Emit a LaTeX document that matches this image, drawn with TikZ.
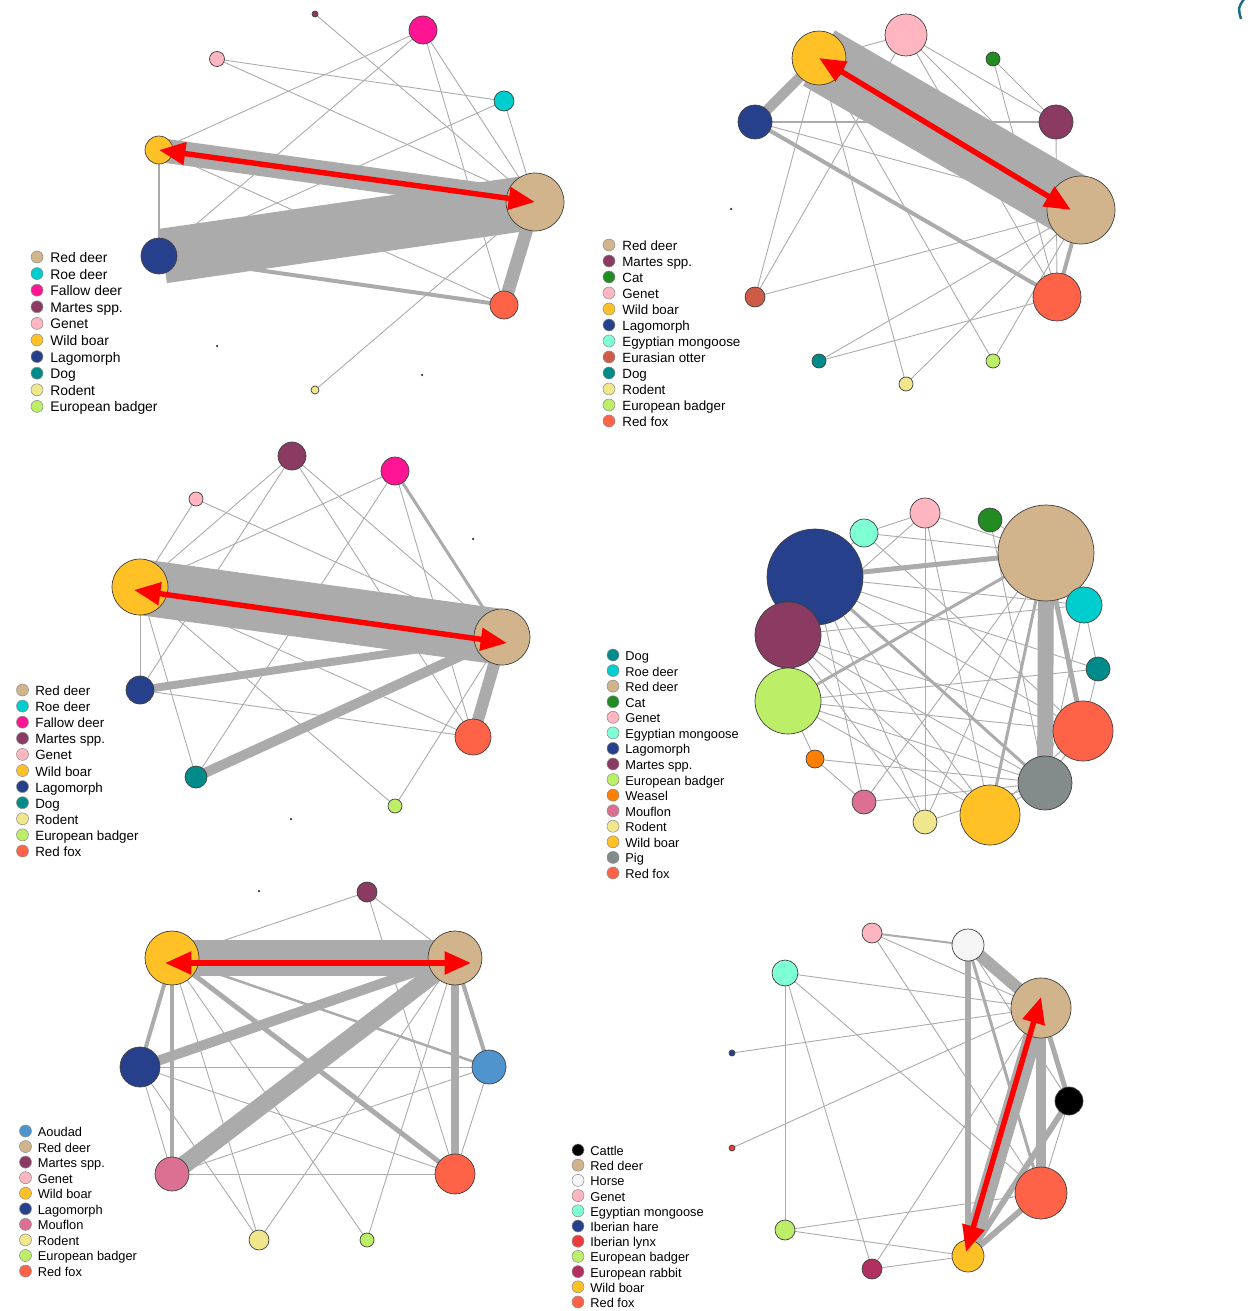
\documentclass[tikz,border=0pt]{standalone}
\usepackage{fontspec}
\setmainfont{Liberation Sans}
\usetikzlibrary{arrows.meta,backgrounds,calc}
\definecolor{reddeer}{HTML}{D2B48C}
\definecolor{roedeer}{HTML}{00CDCD}
\definecolor{fallow}{HTML}{FF1493}
\definecolor{martes}{HTML}{8B3A62}
\definecolor{genet}{HTML}{FFB6C1}
\definecolor{wildboar}{HTML}{FFC125}
\definecolor{lagomorph}{HTML}{27408B}
\definecolor{dog}{HTML}{008B8B}
\definecolor{rodent}{HTML}{F0E68C}
\definecolor{badger}{HTML}{BCEE68}
\definecolor{redfox}{HTML}{FF6347}
\definecolor{cat}{HTML}{228B22}
\definecolor{mongoose}{HTML}{7FFFD4}
\definecolor{otter}{HTML}{CD5B45}
\definecolor{weasel}{HTML}{FF7F00}
\definecolor{mouflon}{HTML}{DB7093}
\definecolor{pig}{HTML}{838B8B}
\definecolor{aoudad}{HTML}{4F94CD}
\definecolor{cattle}{HTML}{000000}
\definecolor{horse}{HTML}{F5F5F5}
\definecolor{hare}{HTML}{27408B}
\definecolor{lynx}{HTML}{EE3B3B}
\definecolor{rabbit}{HTML}{B03060}
\definecolor{edgegray}{HTML}{ABABAB}
\definecolor{arrred}{HTML}{FF0000}
\definecolor{cornermark}{HTML}{1A6E86}

\begin{document}
\begin{tikzpicture}[x=0.02cm, y=-0.02cm,
  sp/.style 2 args={circle, draw=black!75, line width=0.4pt, fill=#1, minimum size=#2*0.04cm, inner sep=0pt},
  spot/.style={circle, fill=black!80, minimum size=0.05cm, inner sep=0pt},
  ed/.style={draw=edgegray, line width=#1*0.567pt, line cap=round},
  ed/.default=0.9,
  band/.style={draw=edgegray, line width=#1*0.567pt, line cap=butt},
  redarr/.style={draw=arrred, line width=3.1pt, {Triangle[length=15pt,width=12.5pt]}-{Triangle[length=15pt,width=12.5pt]}},
  lgdot/.style={circle, draw=black!45, line width=0.3pt, fill=#1, minimum size=0.24cm, inner sep=0pt},
  lgtxt/.style={anchor=base west, inner sep=0pt, font=\fontsize{#1}{9}\selectfont},
  lgtxt/.default=7.6]
  \useasboundingbox (0,0) rectangle (1255,1311);

  % top left
  \begin{scope}
    \node[sp={reddeer}{29}]   (ARd)  at (535,202) {};
    \node[sp={roedeer}{10}]   (ARoe) at (504,101) {};
    \node[sp={fallow}{14}]    (AFal) at (423,30)  {};
    \node[sp={martes}{3}]     (AMar) at (315,14)  {};
    \node[sp={genet}{7.5}]    (AGen) at (217,59)  {};
    \node[sp={wildboar}{14}]  (AWb)  at (159,150) {};
    \node[sp={lagomorph}{18}] (ALag) at (159,256) {};
    \node[sp={redfox}{14}]    (ARf)  at (504,305) {};
    \node[sp={rodent}{4}]     (ARod) at (315,390) {};
    \node[spot] (ADog) at (217,346) {};
    \node[spot] (ABad) at (422,375) {};
  \end{scope}
  \begin{scope}[on background layer]
    \draw[ed] (AMar.center) -- (ARd.center);
    \draw[ed] (AFal.center) -- (AWb.center);
    \draw[ed] (AFal.center) -- (ALag.center);
    \draw[ed] (AFal.center) -- (ARd.center);
    \draw[ed] (AFal.center) -- (ARf.center);
    \draw[ed] (AGen.center) -- (ARoe.center);
    \draw[ed] (AGen.center) -- (ARd.center);
    \draw[ed] (ARoe.center) -- (ARd.center);
    \draw[ed] (ARoe.center) -- (ALag.center);
    \draw[ed] (AWb.center) -- (ARf.center);
    \draw[ed] (ARod.center) -- (ARd.center);
    \draw[ed=2] (AWb.center) -- (ALag.center);
    \draw[ed=4] (ALag.center) -- (ARf.center);
    \draw[ed=13] (ARd.center) -- (ARf.center);
    \draw[band=24] (AWb.center) -- (ARd.center);
    \draw[band=55] ($(ALag.center)+(4,0)$) -- (ARd.center);
  \end{scope}
  \draw[redarr] (AWb.center) -- (ARd.center);
  \foreach \lc/\lt [count=\i from 0] in {reddeer/Red deer, roedeer/Roe deer, fallow/Fallow deer, martes/Martes spp., genet/Genet, wildboar/Wild boar, lagomorph/Lagomorph, dog/Dog, rodent/Rodent, badger/European badger} {
    \node[lgdot=\lc] (ALd\i) at (37,{257+16.6*\i}) {};
    \node[lgtxt=7.9] (ALt\i) at (50,{262.5+16.6*\i}) {\lt};
  }

  % top right
  \begin{scope}
    \node[sp={reddeer}{34}]   (BRd)  at (1081,210) {};
    \node[sp={wildboar}{27}]  (BWb)  at (819,58)   {};
    \node[sp={genet}{21}]     (BGen) at (906,35)   {};
    \node[sp={cat}{7}]        (BCat) at (993,59)   {};
    \node[sp={lagomorph}{17}] (BLag) at (755,122)  {};
    \node[sp={martes}{17}]    (BMar) at (1056,122) {};
    \node[sp={redfox}{24}]    (BRf)  at (1057,297) {};
    \node[sp={otter}{10}]     (BOtt) at (755,297)  {};
    \node[sp={dog}{7}]        (BDog) at (819,361)  {};
    \node[sp={rodent}{7}]     (BRod) at (906,384)  {};
    \node[sp={badger}{7}]     (BBad) at (993,361)  {};
    \node[spot] (BMon) at (731,209) {};
  \end{scope}
  \begin{scope}[on background layer]
    \draw[ed] (BWb.center) -- (BGen.center);
    \draw[ed] (BGen.center) -- (BMar.center);
    \draw[ed] (BGen.center) -- (BRd.center);
    \draw[ed] (BGen.center) -- (BRf.center);
    \draw[ed] (BGen.center) -- (BOtt.center);
    \draw[ed] (BCat.center) -- (BMar.center);
    \draw[ed] (BCat.center) -- (BRf.center);
    \draw[ed] (BWb.center) -- (BOtt.center);
    \draw[ed] (BWb.center) -- (BRod.center);
    \draw[ed] (BWb.center) -- (BBad.center);
    \draw[ed] (BLag.center) -- (BRd.center);
    \draw[ed] (BOtt.center) -- (BRd.center);
    \draw[ed] (BDog.center) -- (BRd.center);
    \draw[ed] (BDog.center) -- (BRf.center);
    \draw[ed] (BRod.center) -- (BRd.center);
    \draw[ed] (BBad.center) -- (BRd.center);
    \draw[ed] (BMar.center) -- (BRf.center);
    \draw[ed=2.5] (BLag.center) -- (BMar.center);
    \draw[ed=4] (BLag.center) -- (BRf.center);
    \draw[ed=4] (BRd.center) -- (BRf.center);
    \draw[ed=10] (BWb.center) -- (BLag.center);
    \draw[band=64] (BWb.center) -- (BRd.center);
  \end{scope}
  \draw[redarr] (BWb.center) -- ($(BRd.center)+(-10,0)$);
  \foreach \lc/\lt [count=\i from 0] in {reddeer/Red deer, martes/Martes spp., cat/Cat, genet/Genet, wildboar/Wild boar, lagomorph/Lagomorph, mongoose/Egyptian mongoose, otter/Eurasian otter, dog/Dog, rodent/Rodent, badger/European badger, redfox/Red fox} {
    \node[lgdot=\lc] (BLd\i) at (609,{245+16*\i}) {};
    \node[lgtxt] (BLt\i) at (622,{250.5+16*\i}) {\lt};
  }

  % middle left
  \begin{scope}
    \node[sp={reddeer}{28}]   (CRd)  at (502,637) {};
    \node[sp={martes}{14}]    (CMar) at (292,456) {};
    \node[sp={fallow}{14}]    (CFal) at (395,471) {};
    \node[sp={genet}{7}]      (CGen) at (196,499) {};
    \node[sp={wildboar}{28}]  (CWb)  at (140,587) {};
    \node[sp={lagomorph}{14}] (CLag) at (140,690) {};
    \node[sp={redfox}{18}]    (CRf)  at (473,737) {};
    \node[sp={dog}{11}]       (CDog) at (196,777) {};
    \node[sp={badger}{7}]     (CBad) at (395,806) {};
    \node[spot] (CRoe) at (473,539) {};
    \node[spot] (CRod) at (291,819) {};
  \end{scope}
  \begin{scope}[on background layer]
    \draw[ed] (CWb.center) -- (CLag.center);
    \draw[ed] (CGen.center) -- (CWb.center);
    \draw[ed] (CGen.center) -- (CRd.center);
    \draw[ed] (CMar.center) -- (CWb.center);
    \draw[ed] (CMar.center) -- (CLag.center);
    \draw[ed] (CMar.center) -- (CRd.center);
    \draw[ed] (CMar.center) -- (CRf.center);
    \draw[ed] (CFal.center) -- (CWb.center);
    \draw[ed] (CFal.center) -- (CDog.center);
    \draw[ed] (CFal.center) -- (CRf.center);
    \draw[ed] (CWb.center) -- (CDog.center);
    \draw[ed] (CWb.center) -- (CRf.center);
    \draw[ed] (CWb.center) -- (CBad.center);
    \draw[ed] (CLag.center) -- (CRf.center);
    \draw[ed] (CBad.center) -- (CRd.center);
    \draw[ed=3] (CFal.center) -- (CRd.center);
    \draw[ed=8] (CLag.center) -- (CRd.center);
    \draw[ed=10] (CDog.center) -- (CRd.center);
    \draw[ed=12] (CRd.center) -- (CRf.center);
    \draw[band=56] (CWb.center) -- (CRd.center);
  \end{scope}
  \draw[redarr] ($(CWb.center)+(-6,3)$) -- ($(CRd.center)+(5,6)$);
  \foreach \lc/\lt [count=\i from 0] in {reddeer/Red deer, roedeer/Roe deer, fallow/Fallow deer, martes/Martes spp., genet/Genet, wildboar/Wild boar, lagomorph/Lagomorph, dog/Dog, rodent/Rodent, badger/European badger, redfox/Red fox} {
    \node[lgdot=\lc] (CLd\i) at (22.5,{690+16.1*\i}) {};
    \node[lgtxt] (CLt\i) at (35,{695.5+16.1*\i}) {\lt};
  }

  % middle right
  \begin{scope}
    \node[sp={reddeer}{48}]   (DRd)  at (1046,553) {};
    \node[sp={genet}{15}]     (DGen) at (925,513)  {};
    \node[sp={cat}{12}]       (DCat) at (990,520)  {};
    \node[sp={mongoose}{14}]  (DMon) at (864,533)  {};
    \node[sp={lagomorph}{48}] (DLag) at (815,577)  {};
    \node[sp={roedeer}{18}]   (DRoe) at (1084,605) {};
    \node[sp={martes}{33}]    (DMar) at (788,635)  {};
    \node[sp={dog}{12}]       (DDog) at (1098,669) {};
    \node[sp={badger}{33}]    (DBad) at (788,701)  {};
    \node[sp={redfox}{30}]    (DRf)  at (1083,731) {};
    \node[sp={weasel}{9}]     (DWea) at (815,759)  {};
    \node[sp={pig}{27}]       (DPig) at (1045,783) {};
    \node[sp={mouflon}{12}]   (DMou) at (864,802)  {};
    \node[sp={wildboar}{30}]  (DWb)  at (990,815)  {};
    \node[sp={rodent}{12}]    (DRod) at (925,822)  {};
  \end{scope}
  \begin{scope}[on background layer]
    \draw[ed] (DMon.center) -- (DGen.center);
    \draw[ed] (DMon.center) -- (DRd.center);
    \draw[ed] (DMon.center) -- (DRf.center);
    \draw[ed] (DGen.center) -- (DRd.center);
    \draw[ed] (DGen.center) -- (DWb.center);
    \draw[ed] (DGen.center) -- (DRod.center);
    \draw[ed] (DGen.center) -- (DMar.center);
    \draw[ed] (DCat.center) -- (DRd.center);
    \draw[ed] (DCat.center) -- (DPig.center);
    \draw[ed] (DLag.center) -- (DRoe.center);
    \draw[ed] (DLag.center) -- (DRf.center);
    \draw[ed] (DLag.center) -- (DWb.center);
    \draw[ed] (DLag.center) -- (DDog.center);
    \draw[ed] (DLag.center) -- (DRod.center);
    \draw[ed] (DLag.center) -- (DMou.center);
    \draw[ed] (DMar.center) -- (DRoe.center);
    \draw[ed] (DMar.center) -- (DRf.center);
    \draw[ed] (DMar.center) -- (DPig.center);
    \draw[ed] (DMar.center) -- (DWb.center);
    \draw[ed] (DMar.center) -- (DRod.center);
    \draw[ed] (DBad.center) -- (DRf.center);
    \draw[ed] (DBad.center) -- (DPig.center);
    \draw[ed] (DBad.center) -- (DWea.center);
    \draw[ed] (DBad.center) -- (DDog.center);
    \draw[ed] (DBad.center) -- (DWb.center);
    \draw[ed] (DWea.center) -- (DMou.center);
    \draw[ed] (DWea.center) -- (DPig.center);
    \draw[ed] (DMou.center) -- (DRd.center);
    \draw[ed] (DMou.center) -- (DPig.center);
    \draw[ed] (DRod.center) -- (DRd.center);
    \draw[ed] (DRod.center) -- (DPig.center);
    \draw[ed] (DWb.center) -- (DPig.center);
    \draw[ed] (DWb.center) -- (DRf.center);
    \draw[ed] (DRoe.center) -- (DPig.center);
    \draw[ed] (DRoe.center) -- (DDog.center);
    \draw[ed] (DDog.center) -- (DRf.center);
    \draw[ed] (DRf.center) -- (DPig.center);
    \draw[ed] (DMon.center) -- (DLag.center);
    \draw[ed=3] (DRd.center) -- (DWb.center);
    \draw[ed=3] (DRd.center) -- (DBad.center);
    \draw[ed=3] (DLag.center) -- (DPig.center);
    \draw[ed=5] (DRd.center) -- (DLag.center);
    \draw[ed=5] (DRd.center) -- (DRf.center);
    \draw[ed=16] (DRd.center) -- (DPig.center);
  \end{scope}
  \foreach \lc/\lt [count=\i from 0] in {dog/Dog, roedeer/Roe deer, reddeer/Red deer, cat/Cat, genet/Genet, mongoose/Egyptian mongoose, lagomorph/Lagomorph, martes/Martes spp., badger/European badger, weasel/Weasel, mouflon/Mouflon, rodent/Rodent, wildboar/Wild boar, pig/Pig, redfox/Red fox} {
    \node[lgdot=\lc] (DLd\i) at (613,{655+15.57*\i}) {};
    \node[lgtxt=7.3] (DLt\i) at (625,{660.5+15.57*\i}) {\lt};
  }

  % bottom left
  \begin{scope}
    \node[sp={reddeer}{27}]   (ERd)  at (455,958)  {};
    \node[sp={martes}{10}]    (EMar) at (367,892)  {};
    \node[sp={wildboar}{27}]  (EWb)  at (172,958)  {};
    \node[sp={lagomorph}{20}] (ELag) at (140,1067) {};
    \node[sp={aoudad}{17}]    (EAou) at (489,1067) {};
    \node[sp={mouflon}{17}]   (EMou) at (172,1174) {};
    \node[sp={redfox}{20}]    (ERf)  at (455,1174) {};
    \node[sp={rodent}{10}]    (ERod) at (259,1240) {};
    \node[sp={badger}{7}]     (EBad) at (367,1240) {};
    \node[spot] (EGen) at (259,891) {};
  \end{scope}
  \begin{scope}[on background layer]
    \draw[ed] (EMar.center) -- (EWb.center);
    \draw[ed] (EMar.center) -- (ERd.center);
    \draw[ed] (EMar.center) -- (ERf.center);
    \draw[ed] (ELag.center) -- (EAou.center);
    \draw[ed] (ELag.center) -- (ERf.center);
    \draw[ed] (ELag.center) -- (EMou.center);
    \draw[ed] (ELag.center) -- (ERod.center);
    \draw[ed] (EMou.center) -- (ERf.center);
    \draw[ed] (EMou.center) -- (EAou.center);
    \draw[ed] (EWb.center) -- (ERod.center);
    \draw[ed] (EWb.center) -- (EBad.center);
    \draw[ed] (ERd.center) -- (ERod.center);
    \draw[ed] (ERd.center) -- (EBad.center);
    \draw[ed] (EAou.center) -- (ERf.center);
    \draw[ed=2.5] (EWb.center) -- (EAou.center);
    \draw[ed=4] (EWb.center) -- (ELag.center);
    \draw[ed=4] (ERd.center) -- (EAou.center);
    \draw[ed=5] (EWb.center) -- (ERf.center);
    \draw[ed=5] (EWb.center) -- (EMou.center);
    \draw[ed=8] (ERd.center) -- (ERf.center);
    \draw[ed=10] (ERd.center) -- (ELag.center);
    \draw[ed=18] (ERd.center) -- (EMou.center);
    \draw[band=37] (EWb.center) -- (ERd.center);
  \end{scope}
  \draw[redarr] ($(EWb.center)+(-7,5)$) -- ($(ERd.center)+(16,5)$);
  \foreach \lc/\lt [count=\i from 0] in {aoudad/Aoudad, reddeer/Red deer, martes/Martes spp., genet/Genet, wildboar/Wild boar, lagomorph/Lagomorph, mouflon/Mouflon, rodent/Rodent, badger/European badger, redfox/Red fox} {
    \node[lgdot=\lc] (ELd\i) at (25.5,{1131+15.56*\i}) {};
    \node[lgtxt=7.3] (ELt\i) at (37.5,{1136.5+15.56*\i}) {\lt};
  }

  % bottom right
  \begin{scope}
    \node[sp={reddeer}{30}]  (FRd)   at (1041,1008) {};
    \node[sp={genet}{10}]    (FGen)  at (872,933)   {};
    \node[sp={horse}{16}]    (FHor)  at (968,945)   {};
    \node[sp={mongoose}{13}] (FMon)  at (785,973)   {};
    \node[sp={hare}{3}]      (FHare) at (732,1053)  {};
    \node[sp={cattle}{14}]   (FCat)  at (1069,1101) {};
    \node[sp={lynx}{3}]      (FLynx) at (732,1148)  {};
    \node[sp={redfox}{26}]   (FRf)   at (1041,1193) {};
    \node[sp={badger}{10}]   (FBad)  at (785,1230)  {};
    \node[sp={rabbit}{10}]   (FRab)  at (872,1269)  {};
    \node[sp={wildboar}{16}] (FWb)   at (968,1256)  {};
  \end{scope}
  \begin{scope}[on background layer]
    \draw[ed] (FHor.center) -- (FCat.center);
    \draw[ed] (FGen.center) -- (FRd.center);
    \draw[ed] (FGen.center) -- (FRf.center);
    \draw[ed] (FMon.center) -- (FRd.center);
    \draw[ed] (FMon.center) -- (FBad.center);
    \draw[ed] (FMon.center) -- (FRab.center);
    \draw[ed] (FMon.center) -- (FRf.center);
    \draw[ed] (FHare.center) -- (FRd.center);
    \draw[ed] (FLynx.center) -- (FRd.center);
    \draw[ed] (FBad.center) -- (FWb.center);
    \draw[ed] (FBad.center) -- (FRf.center);
    \draw[ed] (FRab.center) -- (FRd.center);
    \draw[ed] (FRab.center) -- (FWb.center);
    \draw[ed] (FCat.center) -- (FRf.center);
    \draw[ed=2] (FGen.center) -- (FHor.center);
    \draw[ed=3] (FHor.center) -- (FRf.center);
    \draw[ed=5] (FRd.center) -- (FCat.center);
    \draw[ed=6] (FHor.center) -- (FWb.center);
    \draw[ed=6] (FCat.center) -- (FWb.center);
    \draw[ed=6] (FRf.center) -- (FWb.center);
    \draw[ed=10] (FRd.center) -- (FRf.center);
    \draw[ed=12] (FHor.center) -- (FRd.center);
    \draw[ed=18] (FRd.center) -- (FWb.center);
  \end{scope}
  \draw[redarr] ($(FRd.center)+(0,-11)$) -- ($(FWb.center)+(-2,-4)$);
  \foreach \lc/\lt [count=\i from 0] in {cattle/Cattle, reddeer/Red deer, horse/Horse, genet/Genet, mongoose/Egyptian mongoose, hare/Iberian hare, lynx/Iberian lynx, badger/European badger, rabbit/European rabbit, wildboar/Wild boar, redfox/Red fox} {
    \node[lgdot=\lc] (FLd\i) at (578,{1150+15.2*\i}) {};
    \node[lgtxt=7.3] (FLt\i) at (590,{1155.5+15.2*\i}) {\lt};
  }

  % cut-off mark at the top right corner
  \draw[draw=cornermark, line width=1.4pt] (1244,-1) .. controls (1238,8) .. (1241,19);
\end{tikzpicture}
\end{document}
